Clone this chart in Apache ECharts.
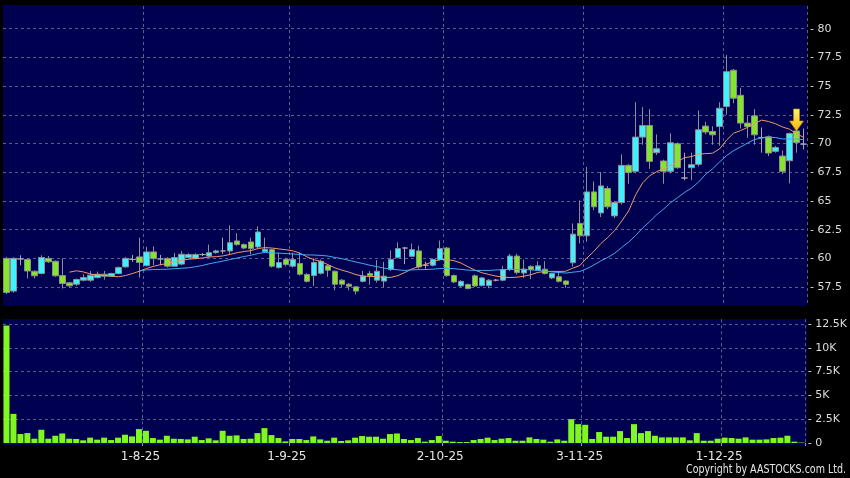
<!DOCTYPE html>
<html>
<head>
<meta charset="utf-8">
<script src="https://cdn.jsdelivr.net/npm/echarts@6/dist/echarts.min.js"></script>
<style>
  html, body { margin: 0; padding: 0; background: #000; }
  #chart { width: 850px; height: 478px; }
</style>
</head>
<body>
<div id="chart"></div>
<script>
// trading days, Jul - Dec 2025
const julDays = [4, 7, 8, 9, 10, 11, 14, 15, 16, 17, 18, 21, 22, 23, 24, 25, 28, 29, 30, 31];
const augDays = [1, 4, 5, 6, 7, 8, 11, 12, 13, 14, 15, 18, 19, 20, 21, 22, 25, 26, 27, 28, 29];
const sepDays = [1, 2, 3, 4, 5, 8, 9, 10, 11, 12, 15, 16, 17, 18, 19, 22, 23, 24, 25, 26, 29, 30];
const octDays = [2, 3, 6, 8, 9, 10, 13, 14, 15, 16, 17, 20, 21, 22, 23, 24, 27, 28, 30, 31];
const novDays = [3, 4, 5, 6, 7, 10, 11, 12, 13, 14, 17, 18, 19, 20, 21, 24, 25, 26, 27, 28];
const decDays = [1, 2, 3, 4, 5, 8, 9, 10, 11, 12, 15, 16];

const categories = [];
[[7, julDays], [8, augDays], [9, sepDays], [10, octDays], [11, novDays], [12, decDays]].forEach(([m, days]) => {
  days.forEach(d => categories.push(d + '-' + m + '-25'));
});

const tickLabels = ['1-8-25', '1-9-25', '2-10-25', '3-11-25', '1-12-25'];

// [open, close, low, high]
const candles = [
  [60.0, 57.03, 56.9, 60.1], [57.15, 60.0, 57.0, 60.1], [59.95, 59.95, 59.4, 60.27], [59.9, 58.9, 58.25, 60.0],
  [58.88, 58.48, 58.25, 58.95], [58.68, 60.07, 58.6, 60.27], [60.0, 59.7, 59.6, 60.2], [59.75, 58.48, 58.4, 59.8],
  [58.5, 57.81, 57.38, 60.0], [57.87, 57.61, 57.45, 57.95], [57.75, 58.16, 57.6, 58.25], [58.1, 58.33, 58.0, 58.62],
  [58.1, 58.54, 57.95, 58.9], [58.33, 58.62, 58.25, 58.85], [58.62, 58.45, 58.15, 58.9], [58.45, 58.68, 58.4, 58.75],
  [58.68, 59.2, 58.6, 59.3], [59.26, 60.0, 59.2, 60.1], [59.9, 59.9, 59.7, 60.3], [60.13, 59.64, 58.33, 61.8],
  [59.37, 60.56, 59.3, 61.0], [60.56, 59.98, 59.4, 61.05], [59.95, 59.95, 59.4, 60.3], [60.0, 59.32, 59.2, 60.1],
  [59.32, 60.07, 59.25, 60.48], [59.5, 60.36, 59.4, 60.65], [60.07, 60.33, 60.0, 60.45], [60.0, 60.33, 59.9, 60.45],
  [60.33, 60.33, 60.2, 60.45], [60.2, 60.5, 60.1, 61.2], [60.5, 60.65, 60.4, 60.75], [60.65, 60.65, 60.4, 61.8],
  [60.65, 61.37, 60.4, 62.88], [61.52, 61.2, 61.1, 62.2], [61.2, 60.9, 60.8, 61.3], [61.43, 60.85, 60.35, 61.8],
  [61.0, 62.3, 60.9, 62.79], [60.58, 60.8, 60.5, 61.8], [60.76, 59.32, 59.2, 60.85], [59.2, 59.64, 59.1, 60.5],
  [59.92, 59.46, 59.3, 60.05], [59.32, 59.9, 59.2, 60.5], [59.55, 58.62, 58.5, 60.5], [58.6, 58.0, 57.9, 58.7],
  [58.5, 59.64, 57.6, 60.0], [58.7, 59.75, 58.6, 59.9], [59.35, 58.97, 58.4, 59.45], [58.88, 57.75, 57.23, 58.95],
  [58.1, 57.75, 57.5, 58.2], [57.75, 57.58, 57.23, 57.85], [57.52, 57.15, 56.86, 57.6], [58.0, 58.45, 57.9, 58.9],
  [58.68, 58.5, 57.7, 58.9], [58.1, 58.88, 57.9, 59.85], [58.02, 58.45, 57.5, 59.7], [59.03, 59.9, 58.9, 60.7],
  [60.06, 60.85, 60.0, 61.4], [60.9, 60.9, 59.5, 61.0], [60.18, 60.76, 60.1, 61.3], [60.65, 59.26, 59.1, 61.1],
  [59.4, 59.4, 59.1, 59.7], [59.4, 59.9, 59.3, 60.0], [59.9, 60.85, 59.8, 61.55], [60.9, 58.5, 58.4, 61.0],
  [58.5, 57.95, 57.85, 58.6], [57.6, 58.0, 57.5, 58.1], [57.73, 57.38, 57.3, 57.8], [58.48, 57.6, 57.5, 58.6],
  [57.63, 58.3, 57.55, 58.4], [57.63, 58.1, 57.4, 58.2], [58.1, 58.1, 58.0, 58.2], [58.1, 59.03, 58.0, 59.32],
  [59.03, 60.2, 58.9, 60.4], [60.2, 58.76, 58.6, 60.4], [58.73, 59.07, 58.3, 59.9], [59.3, 59.03, 58.2, 59.4],
  [58.97, 59.35, 58.9, 59.75], [59.06, 58.68, 58.6, 59.75], [58.3, 58.68, 58.2, 58.75], [58.4, 58.0, 57.9, 58.83],
  [58.03, 57.74, 57.45, 58.1], [59.62, 62.11, 59.3, 63.04], [63.04, 61.97, 61.3, 65.06], [61.97, 65.79, 61.45, 67.96],
  [65.79, 64.49, 64.2, 66.7], [63.96, 66.31, 63.6, 67.52], [66.08, 64.49, 64.3, 66.3], [63.7, 64.86, 63.5, 65.0],
  [64.86, 68.1, 64.7, 69.06], [68.1, 67.47, 66.5, 68.2], [67.58, 70.56, 67.4, 73.6], [70.56, 71.57, 69.9, 73.17],
  [71.57, 68.45, 67.8, 73.0], [69.2, 69.55, 69.0, 70.8], [68.48, 67.58, 66.5, 68.6], [67.58, 70.07, 67.4, 70.9],
  [69.98, 67.9, 67.8, 70.1], [67.0, 67.0, 66.8, 69.2], [67.9, 68.16, 66.8, 69.2], [68.19, 71.2, 68.0, 72.88],
  [71.52, 71.0, 70.8, 71.9], [71.05, 70.76, 69.9, 71.5], [71.49, 73.08, 69.8, 73.6], [73.22, 76.26, 72.5, 77.7],
  [76.38, 73.95, 73.5, 76.5], [74.2, 71.78, 71.3, 74.85], [71.78, 71.49, 70.5, 72.4], [72.41, 70.76, 69.9, 73.0],
  [70.53, 70.53, 69.2, 71.4], [70.59, 69.17, 68.9, 70.7], [69.32, 69.66, 69.2, 69.8], [68.91, 67.58, 67.35, 69.4],
  [68.5, 70.88, 66.53, 70.95], [71.1, 70.1, 69.2, 71.5], [69.95, 69.95, 69.5, 71.3]
];

const volumes = [
  12330, 3060, 940, 1040, 450, 1390, 450, 760, 1000, 450,
  420, 280, 560, 350, 560, 310, 560, 870, 690, 1460,
  1280, 520, 350, 760, 450, 420, 380, 660, 310, 490,
  280, 1280, 760, 800, 420, 450, 1040, 1560, 830, 520,
  170, 420, 420, 310, 690, 380, 240, 560, 210, 280,
  560, 730, 660, 660, 450, 940, 1000, 420, 310, 520,
  140, 310, 730, 240, 140, 100, 100, 310, 420, 560,
  310, 450, 520, 240, 240, 590, 420, 350, 140, 380,
  240, 2500, 1980, 1910, 420, 1150, 660, 660, 1250, 520,
  1980, 1040, 1250, 760, 590, 590, 590, 590, 280, 1040,
  240, 240, 450, 560, 520, 450, 590, 350, 350, 380,
  520, 560, 760, 140, 50
];

const ma10 = [
  null, null, null, null, null, null, null, null, null, 58.8,
  58.92, 58.82, 58.64, 58.56, 58.52, 58.45, 58.4, 58.5, 58.68, 58.88,
  59.12, 59.3, 59.45, 59.55, 59.7, 59.82, 59.92, 59.98, 60.03, 60.12,
  60.15, 60.22, 60.35, 60.5, 60.6, 60.68, 60.86, 60.94, 60.9, 60.82,
  60.75, 60.65, 60.45, 60.12, 59.88, 59.72, 59.45, 59.17, 58.97, 58.8,
  58.58, 58.46, 58.42, 58.42, 58.34, 58.35, 58.5, 58.78, 59.08, 59.3,
  59.5, 59.7, 59.9, 59.9, 59.8, 59.6, 59.27, 58.98, 58.75, 58.6,
  58.46, 58.38, 58.33, 58.36, 58.45, 58.58, 58.78, 58.85, 58.87, 58.86,
  58.88, 59.15, 59.38, 60.02, 60.6, 61.28, 61.82, 62.43, 63.25, 64.15,
  65.55, 66.58, 67.2, 67.55, 67.82, 68.1, 68.45, 68.77, 68.87, 69.08,
  69.12, 69.16, 69.54, 70.3, 70.9, 71.13, 71.41, 71.75, 72.04, 71.92,
  71.72, 71.44, 71.25, 70.85, 70.55
];

const ma20 = [
  null, null, null, null, null, null, null, null, null, null,
  null, null, null, null, null, null, null, null, null, 58.9,
  59.0, 59.03, 59.04, 59.06, 59.1, 59.14, 59.18, 59.27, 59.38, 59.53,
  59.65, 59.77, 59.9, 60.04, 60.16, 60.28, 60.43, 60.52, 60.48, 60.45,
  60.42, 60.38, 60.34, 60.3, 60.29, 60.26, 60.2, 60.08, 59.97, 59.83,
  59.68, 59.55, 59.4, 59.28, 59.15, 59.08, 59.0, 58.95, 59.0, 59.02,
  59.03, 59.06, 59.12, 59.14, 59.1, 59.04, 58.98, 58.95, 58.95, 58.95,
  58.99, 59.02, 59.06, 59.04, 59.04, 59.0, 58.95, 58.88, 58.82, 58.77,
  58.72, 58.8, 58.86, 59.1, 59.42, 59.78, 60.08, 60.45, 60.95, 61.42,
  62.0, 62.65, 63.2, 63.8, 64.3, 64.85, 65.3, 65.75, 66.13, 66.65,
  67.32, 67.8, 68.4, 68.95, 69.38, 69.7, 70.05, 70.35, 70.48, 70.55,
  70.52, 70.4, 70.4, 70.38, 70.35
];

// the yellow marker over the second-last session
const arrowIndex = 113;
const arrowPrice = 72.05;

const isTick = (idx, val) => tickLabels.indexOf(val) >= 0;
const gridLine = { show: true, lineStyle: { color: '#5c5c8e', type: [3, 3], width: 1 } };
const yFont = { color: '#dcdcdc', fontSize: 11, fontFamily: 'DejaVu Sans' };
const xFont = { color: '#e6e6e6', fontSize: 12, fontFamily: 'DejaVu Sans' };

const chart = echarts.init(document.getElementById('chart'));
chart.setOption({
  backgroundColor: '#000',
  animation: false,
  graphic: [
    { type: 'rect', z: -10, shape: { x: 3, y: 5, width: 804, height: 301 }, style: { fill: '#000050' } },
    { type: 'rect', z: -10, shape: { x: 3, y: 319, width: 804, height: 126 }, style: { fill: '#000050' } },
    { type: 'rect', z: 50, shape: { x: 0, y: -10, width: 850, height: 15 }, style: { fill: '#000' } },
    { type: 'rect', z: 50, shape: { x: 0, y: 306, width: 850, height: 13 }, style: { fill: '#000' } },
    {
      type: 'text', z: 50, x: 846, y: 470, scaleX: 0.88,
      style: {
        text: 'Copyright by AASTOCKS.com Ltd.', x: 0, y: 0,
        align: 'right', verticalAlign: 'middle', textAlign: 'right', textVerticalAlign: 'middle',
        fill: '#e6e6e6', font: '12px "Liberation Sans Narrow", "DejaVu Sans Condensed", sans-serif'
      }
    }
  ],
  grid: [
    { left: 3, width: 804, top: -0.8, height: 316.6 },
    { left: 3, width: 804, top: 319.2, height: 123.8 }
  ],
  xAxis: [
    {
      type: 'category', gridIndex: 0, data: categories, boundaryGap: true,
      axisLine: { show: false }, axisTick: { show: false }, axisLabel: { show: false },
      splitLine: Object.assign({ interval: isTick }, gridLine)
    },
    {
      type: 'category', gridIndex: 1, data: categories, boundaryGap: true, offset: 3,
      axisLine: { show: false },
      axisTick: { show: true, interval: isTick, length: 3, lineStyle: { color: '#9a9a9a' } },
      axisLabel: Object.assign({ interval: isTick, margin: 5, padding: [0, 11, 0, 0] }, xFont),
      splitLine: Object.assign({ interval: isTick }, gridLine)
    }
  ],
  yAxis: [
    {
      type: 'value', gridIndex: 0, position: 'right', min: 55, max: 82.5, interval: 2.5,
      axisLine: { show: false }, axisTick: { show: false },
      axisLabel: Object.assign({
        margin: 3, showMinLabel: false, showMaxLabel: false,
        formatter: v => '- ' + v
      }, yFont),
      splitLine: gridLine
    },
    {
      type: 'value', gridIndex: 1, position: 'right', min: 0, max: 13000, interval: 2500,
      axisLine: { show: false }, axisTick: { show: false },
      axisLabel: Object.assign({
        margin: 3, showMaxLabel: false,
        formatter: v => '- ' + (v === 0 ? '0' : (v / 1000) + 'K')
      }, yFont),
      splitLine: Object.assign({ showMinLine: false, showMaxLine: false }, gridLine)
    }
  ],
  series: [
    {
      type: 'candlestick', xAxisIndex: 0, yAxisIndex: 0, data: candles, barWidth: 6,
      itemStyle: {
        color: '#3ff0ff', color0: '#84e62c',
        borderColor: '#8e8e8e', borderColor0: '#8e8e8e', borderColorDoji: '#a8a8a8', borderWidth: 1
      },
      markPoint: {
        symbol: 'path://M4,0 L10,0 L10,12 L14,12 L7,22 L0,12 L4,12 Z',
        symbolSize: [14, 22],
        label: { show: false },
        itemStyle: {
          color: {
            type: 'linear', x: 0, y: 0, x2: 0, y2: 1,
            colorStops: [{ offset: 0, color: '#fff37a' }, { offset: 1, color: '#f0b400' }]
          },
          borderColor: '#b88a00', borderWidth: 0.6
        },
        data: [{ coord: [categories[arrowIndex], arrowPrice] }]
      }
    },
    {
      type: 'line', xAxisIndex: 0, yAxisIndex: 0, data: ma10, showSymbol: false,
      lineStyle: { color: '#ee9a6c', width: 1 }, itemStyle: { color: '#ee9a6c' }
    },
    {
      type: 'line', xAxisIndex: 0, yAxisIndex: 0, data: ma20, showSymbol: false,
      lineStyle: { color: '#45a8ee', width: 1 }, itemStyle: { color: '#45a8ee' }
    },
    {
      type: 'bar', xAxisIndex: 1, yAxisIndex: 1, data: volumes, barWidth: 6,
      itemStyle: { color: '#7ff81f' }
    }
  ]
});
</script>
</body>
</html>
